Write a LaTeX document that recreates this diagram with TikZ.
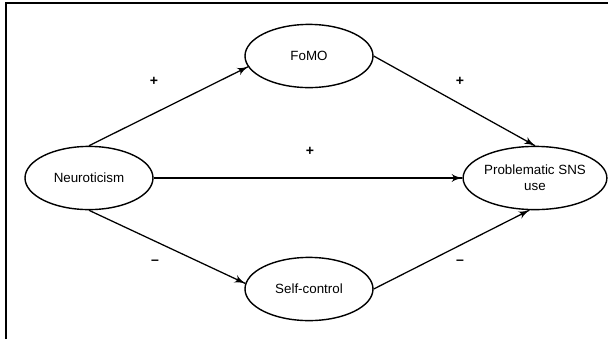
\documentclass[tikz,border=0pt]{standalone}
\usepackage{fontspec}
\setmainfont{Liberation Sans}
\usetikzlibrary{shapes.geometric}
\usetikzlibrary{arrows}
\usetikzlibrary{decorations.markings}
\tikzset{arr/.style = {decoration={markings,
                                   mark=at position 1 with {\arrow[scale=1.4]{latex'}}},
                       postaction={decorate}}}
\tikzset{latent/.style = {draw, ellipse, line width=1pt, inner sep=0,
                          minimum width=3.2cm, minimum height=1.58cm,
                          align=center, font=\fontsize{9.5}{11.5}\selectfont}}
\tikzset{sign/.style = {font=\fontsize{10}{12}\selectfont\bfseries}}

\begin{document}
\begin{tikzpicture}[line width=0.9pt]
    \useasboundingbox (0, 0) rectangle (15.2, -8.475);
    \draw [line width=1.1pt] (0.15, -8.475) -- (0.15, -0.075) -- (15.2, -0.075);

    \node [latent] (neu) at (2.225, -4.45) {Neuroticism};
    \node [latent] (fomo) at (7.725, -1.4) {FoMO};
    \node [latent] (self) at (7.725, -7.225) {Self-control};
    \node [latent] (prob) at (13.375, -4.45) {Problematic SNS\\use};

    \draw [arr] (neu.north) -- (fomo.190);
    \draw [arr] (fomo.east) -- (prob.north);
    \draw [arr] (neu.east) -- (prob.west);
    \draw [arr] (neu.south) -- (self.175);
    \draw [arr] (self.east) -- (prob.-100);

    \node [sign] (nf) at (3.85, -2.025) {+};
    \node [sign] (fp) at (11.5, -2.025) {+};
    \node [sign] (np) at (7.75, -3.775) {+};
    \node [sign] (ns) at (3.875, -6.55) {--};
    \node [sign] (sp) at (11.5, -6.55) {--};
  \end{tikzpicture}
\end{document}
